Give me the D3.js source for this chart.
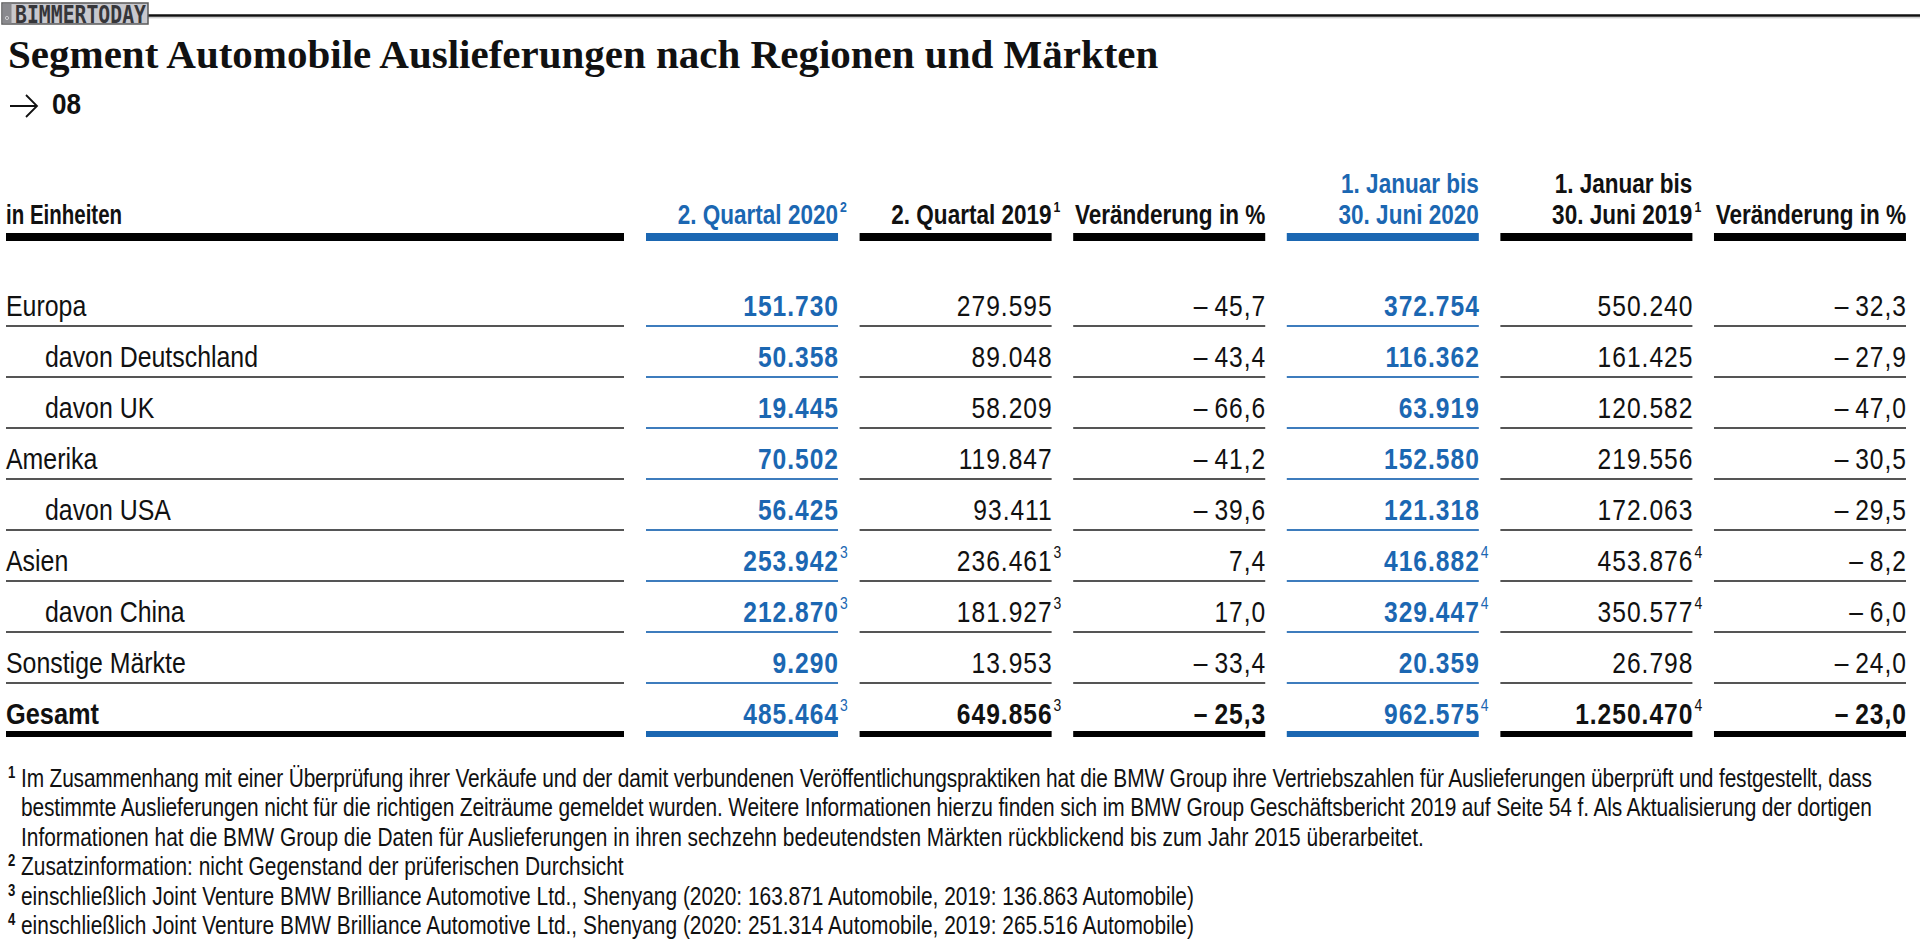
<!DOCTYPE html>
<html lang="de">
<head>
<meta charset="utf-8">
<title>Segment Automobile Auslieferungen nach Regionen und Märkten</title>
<script src="https://cdn.jsdelivr.net/npm/d3@7"></script>
<style>
  html, body { margin: 0; padding: 0; background: #fff; }
  svg { display: block; }
  .narrow { font-family: "Liberation Sans", Arial, Helvetica, sans-serif; }
</style>
</head>
<body>
<svg id="chart" width="1920" height="946"></svg>
<script>
// Zeilen (Regionen / Märkte)
const regions = [
  "Europa", "davon Deutschland", "davon UK", "Amerika", "davon USA",
  "Asien", "davon China", "Sonstige Märkte", "Gesamt"
];

// Spaltenköpfe
const columnHeads = [
  ["2. Quartal 2020"],
  ["2. Quartal 2019"],
  ["Veränderung in %"],
  ["1. Januar bis", "30. Juni 2020"],
  ["1. Januar bis", "30. Juni 2019"],
  ["Veränderung in %"]
];
const columnHeadNotes = ["2", "1", "", "", "1", ""];

// Werte
const q2_2020   = [151730, 50358, 19445, 70502, 56425, 253942, 212870, 9290, 485464];
const q2_2019   = [279595, 89048, 58209, 119847, 93411, 236461, 181927, 13953, 649856];
const q2_change = [-45.7, -43.4, -66.6, -41.2, -39.6, 7.4, 17.0, -33.4, -25.3];
const h1_2020   = [372754, 116362, 63919, 152580, 121318, 416882, 329447, 20359, 962575];
const h1_2019   = [550240, 161425, 120582, 219556, 172063, 453876, 350577, 26798, 1250470];
const h1_change = [-32.3, -27.9, -47.0, -30.5, -29.5, -8.2, -6.0, -24.0, -23.0];

// Fußnotenverweise je Zeile
const q2Notes = ["", "", "", "", "", "3", "3", "", "3"];
const h1Notes = ["", "", "", "", "", "4", "4", "", "4"];

const footnotes = [
  { mark: "1", lines: [
    "Im Zusammenhang mit einer Überprüfung ihrer Verkäufe und der damit verbundenen Veröffentlichungspraktiken hat die BMW Group ihre Vertriebszahlen für Auslieferungen überprüft und festgestellt, dass",
    "bestimmte Auslieferungen nicht für die richtigen Zeiträume gemeldet wurden. Weitere Informationen hierzu finden sich im BMW Group Geschäftsbericht 2019 auf Seite 54 f. Als Aktualisierung der dortigen",
    "Informationen hat die BMW Group die Daten für Auslieferungen in ihren sechzehn bedeutendsten Märkten rückblickend bis zum Jahr 2015 überarbeitet."
  ]},
  { mark: "2", lines: ["Zusatzinformation: nicht Gegenstand der prüferischen Durchsicht"] },
  { mark: "3", lines: ["einschließlich Joint Venture BMW Brilliance Automotive Ltd., Shenyang (2020: 163.871 Automobile, 2019: 136.863 Automobile)"] },
  { mark: "4", lines: ["einschließlich Joint Venture BMW Brilliance Automotive Ltd., Shenyang (2020: 251.314 Automobile, 2019: 265.516 Automobile)"] }
];

const title = "Segment Automobile Auslieferungen nach Regionen und Märkten";
const figNo = "08";
const unitLabel = "in Einheiten";

(function () {
  const BLUE = "#1b67b2";
  const INK = "#111";
  const SX = 0.82; // schmale Schrift: Liberation Sans horizontal gestaucht

  const de = d3.formatLocale({
    decimal: ",", thousands: ".", grouping: [3], currency: ["", " €"], minus: "\u2013\u2009"
  });
  const fmtUnits = de.format(",d");
  const fmtPct = de.format(",.1f");

  const columns = [
    { values: q2_2020, notes: q2Notes, fmt: fmtUnits },
    { values: q2_2019, notes: q2Notes, fmt: fmtUnits },
    { values: q2_change, notes: null, fmt: fmtPct },
    { values: h1_2020, notes: h1Notes, fmt: fmtUnits },
    { values: h1_2019, notes: h1Notes, fmt: fmtUnits },
    { values: h1_change, notes: null, fmt: fmtPct }
  ];
  columns.forEach((c, i) => {
    c.head = columnHeads[i];
    c.headNote = columnHeadNotes[i];
    c.current = c.head.join(" ").includes("2020"); // laufendes Jahr blau
  });

  const svg = d3.select("#chart");

  // schmaler Text an (x, y)
  function narrow(parent, px, py, sx) {
    return parent.append("text")
      .attr("class", "narrow")
      .attr("transform", `translate(${px},${py}) scale(${sx || SX},1)`);
  }

  // Layout
  const labelX0 = 6, labelX1 = 624;
  const x = d3.scaleBand()
    .domain(d3.range(columns.length))
    .range([646, 1906])
    .paddingInner(0.101);
  const y = d3.scaleBand()
    .domain(d3.range(regions.length))
    .range([275, 734]);
  const lineY = i => y(i) + y.step();
  const baseY = i => lineY(i) - 10.5;
  const lastRow = regions.length - 1;

  // --- Kopf: BIMMERTODAY + Linie ---
  svg.append("line")
    .attr("x1", 148).attr("x2", 1920).attr("y1", 15.5).attr("y2", 15.5)
    .attr("stroke", "#111").attr("stroke-width", 2.5);
  svg.append("line")
    .attr("x1", 148).attr("x2", 1920).attr("y1", 17.8).attr("y2", 17.8)
    .attr("stroke", "#bbb").attr("stroke-width", 1);
  const badge = svg.append("g");
  badge.append("rect")
    .attr("x", 2).attr("y", 3).attr("width", 146).attr("height", 21)
    .attr("fill", "#c8c8cd").attr("stroke", "#5a5a5a").attr("stroke-width", 1.5);
  badge.append("rect")
    .attr("x", 2.5).attr("y", 3.5).attr("width", 9).attr("height", 20)
    .attr("fill", "#8a8a8e");
  badge.append("circle")
    .attr("cx", 7).attr("cy", 18).attr("r", 1.6)
    .attr("fill", "none").attr("stroke", "#ddd").attr("stroke-width", 0.8);
  badge.append("text")
    .attr("x", 15).attr("y", 22.5)
    .attr("textLength", 131).attr("lengthAdjust", "spacingAndGlyphs")
    .attr("font-family", "'DejaVu Sans Mono', monospace")
    .attr("font-weight", "bold").attr("font-size", 25)
    .attr("fill", "#36363a")
    .text("BIMMERTODAY");

  // --- Titel ---
  svg.append("text")
    .attr("x", 8).attr("y", 68)
    .attr("font-family", "'Liberation Serif', 'Times New Roman', serif")
    .attr("font-weight", "bold").attr("font-size", 41)
    .attr("fill", INK)
    .text(title);

  // Pfeil + Grafiknummer
  svg.append("path")
    .attr("d", "M10,106 H37 M26,95 L37,106 L26,117")
    .attr("fill", "none").attr("stroke", INK).attr("stroke-width", 1.8)
    .attr("stroke-linejoin", "miter");
  narrow(svg, 52, 114, 0.87)
    .attr("font-weight", "bold").attr("font-size", 30)
    .attr("fill", INK)
    .text(figNo);

  // --- Tabellenkopf ---
  const head = svg.append("g").attr("font-weight", "bold").attr("font-size", 27.5);
  narrow(head, labelX0, 224, 0.745).attr("fill", INK).text(unitLabel);
  head.append("rect")
    .attr("x", labelX0).attr("y", 233).attr("width", labelX1 - labelX0).attr("height", 8)
    .attr("fill", "#000");

  columns.forEach((c, i) => {
    const g = head.append("g");
    const right = x(i) + x.bandwidth();
    const color = c.current ? BLUE : INK;
    c.head.forEach((line, k) => {
      narrow(g, right, 224 - (c.head.length - 1 - k) * 31)
        .attr("text-anchor", "end").attr("fill", color)
        .text(line);
    });
    if (c.headNote) {
      narrow(g, right + 2, 212)
        .attr("font-size", 15).attr("fill", color)
        .text(c.headNote);
    }
    g.append("rect")
      .attr("x", x(i)).attr("y", 233).attr("width", x.bandwidth()).attr("height", 8)
      .attr("fill", c.current ? BLUE : "#000");
  });

  // --- Zeilen ---
  const body = svg.append("g");

  regions.forEach((label, i) => {
    const total = i === lastRow;
    narrow(body, label.startsWith("davon ") ? 45 : labelX0, baseY(i), total ? 0.845 : 0.83)
      .attr("font-size", 30)
      .attr("font-weight", total ? "bold" : "normal")
      .attr("fill", INK)
      .text(label);
  });

  body.append("g").selectAll("rect")
    .data(regions)
    .join("rect")
    .attr("x", labelX0)
    .attr("y", (d, i) => i === lastRow ? lineY(i) - 3 : lineY(i) - 1)
    .attr("width", labelX1 - labelX0)
    .attr("height", (d, i) => i === lastRow ? 6 : 2)
    .attr("fill", (d, i) => i === lastRow ? "#000" : "#555");

  columns.forEach((c, ci) => {
    const right = x(ci) + x.bandwidth();
    const color = c.current ? BLUE : INK;
    const g = body.append("g");

    c.values.forEach((v, i) => {
      narrow(g, right + 1, baseY(i))
        .attr("text-anchor", "end")
        .attr("font-size", 30)
        .attr("letter-spacing", 1.2)
        .attr("font-weight", (c.current || i === lastRow) ? "bold" : "normal")
        .attr("fill", color)
        .text(c.fmt(v));
      if (c.notes && c.notes[i]) {
        narrow(g, right + 2, baseY(i) - 12.5)
          .attr("font-size", 17)
          .attr("fill", color)
          .text(c.notes[i]);
      }
    });

    g.selectAll("rect")
      .data(c.values)
      .join("rect")
      .attr("x", x(ci))
      .attr("y", (d, i) => i === lastRow ? lineY(i) - 3 : lineY(i) - 1)
      .attr("width", x.bandwidth())
      .attr("height", (d, i) => i === lastRow ? 6 : 2)
      .attr("fill", (d, i) => i === lastRow ? (c.current ? BLUE : "#000") : (c.current ? "#3d7cbd" : "#555"));
  });

  // --- Fußnoten ---
  const notes = svg.append("g").attr("font-size", 25.5).attr("fill", INK);
  const noteY = n => 787 + n * 29.4;
  const justifyWidth = 1851; // Blocksatz der umbrochenen Fußnote
  let lineNo = 0;
  footnotes.forEach(f => {
    narrow(notes, 8, noteY(lineNo) - 9)
      .attr("font-size", 16).attr("font-weight", "bold")
      .text(f.mark);
    f.lines.forEach((line, k) => {
      const t = narrow(notes, 21, noteY(lineNo)).text(line);
      if (k < f.lines.length - 1) {
        t.attr("textLength", justifyWidth / SX).attr("lengthAdjust", "spacing");
      }
      lineNo++;
    });
  });
})();
</script>
</body>
</html>
